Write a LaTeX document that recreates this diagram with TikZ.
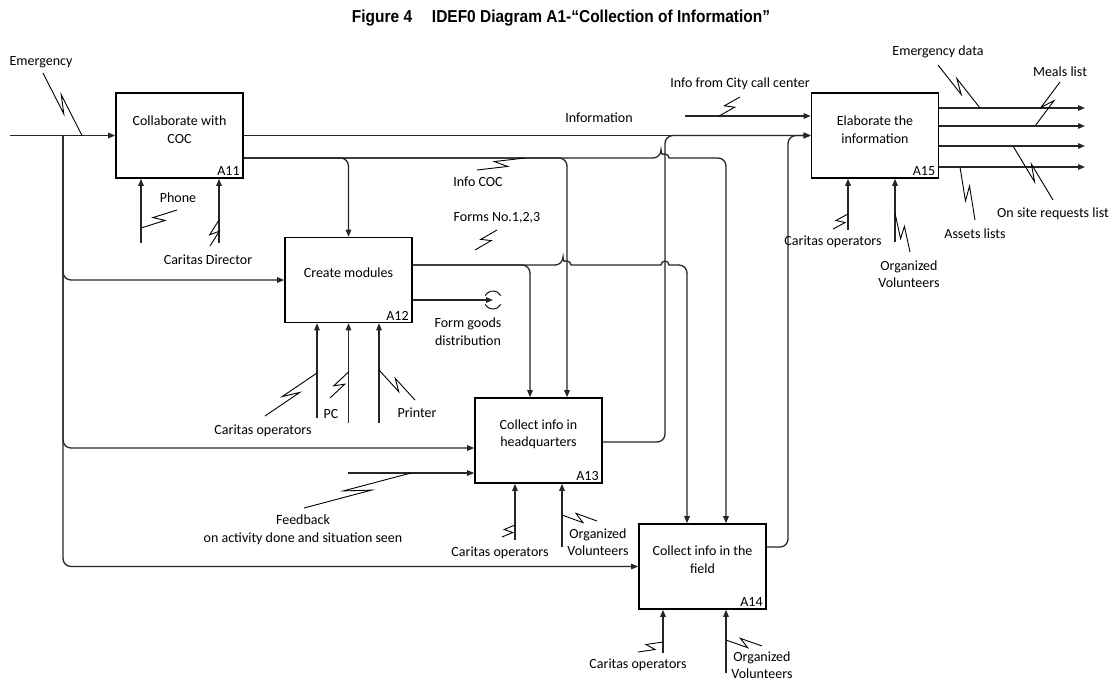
\documentclass[tikz,border=0pt]{standalone}
\usepackage{fontspec}
\setmainfont{Carlito}
\newfontfamily\titlefont{Liberation Sans}
\usetikzlibrary{arrows.meta,calc}

\begin{document}
\begin{tikzpicture}[x=1pt,y=-1pt,
  fnbox/.style={draw,line width=1.6pt,minimum width=127pt,minimum height=85pt,inner sep=0pt},
  fntext/.style={align=center,inner sep=0pt,font=\fontsize{14}{17.5}\selectfont},
  lbl/.style={align=center,inner sep=0pt,font=\fontsize{14}{17.5}\selectfont},
  idx/.style={inner sep=0pt,anchor=south east,font=\fontsize{14}{16}\selectfont},
  flow/.style={line width=1.3pt,draw=black!85,rounded corners=8pt},
  arr/.style={flow,-{Triangle[length=7pt,width=5.5pt]}},
  leader/.style={line width=0.9pt,
    to path={-- ($(\tikztostart)!0.62!(\tikztotarget)!4pt!-90:(\tikztotarget)$)
             -- ($(\tikztostart)!0.38!(\tikztotarget)!4pt!90:(\tikztotarget)$)
             -- (\tikztotarget)}},
]
\useasboundingbox (0,0) rectangle (1120,683);
\fill[white] (0,0) rectangle (1120,683);

% title
\node[inner sep=0pt] (title) at (561,18)
  {\resizebox{418pt}{12.5pt}{\titlefont\bfseries Figure 4\quad\ IDEF0 Diagram A1-“Collection of Information”}};

% activity boxes
\node[fnbox] (a11) at (179.5,135.5) {};
\node[fnbox] (a12) at (348.5,280) {};
\node[fnbox] (a13) at (538.5,440.5) {};
\node[fnbox] (a14) at (702.5,566.5) {};
\node[fnbox] (a15) at (875,135.5) {};

\node[fntext] (a11t) at ($(a11.center)+(0,-6)$) {Collaborate with\\COC};
\node[fntext] (a12t) at ($(a12.center)+(0,-7)$) {Create modules};
\node[fntext] (a13t) at ($(a13.center)+(0,-6)$) {Collect info in\\headquarters};
\node[fntext] (a14t) at ($(a14.center)+(0,-7)$) {Collect info in the\\field};
\node[fntext] (a15t) at ($(a15.center)+(0,-6)$) {Elaborate the\\information};

\node[idx] (a11n) at ($(a11.south east)+(-4,-3)$) {A11};
\node[idx] (a12n) at ($(a12.south east)+(-4,-3)$) {A12};
\node[idx] (a13n) at ($(a13.south east)+(-4,-3)$) {A13};
\node[idx] (a14n) at ($(a14.south east)+(-4,-3)$) {A14};
\node[idx] (a15n) at ($(a15.south east)+(-4,-3)$) {A15};

% route points
\coordinate (emin)  at (10,135.5);
\coordinate (split) at (63,135.5);
\coordinate (a13in1) at ($(a13.west)+(0,7.5)$);
\coordinate (a13in2) at ($(a13.west)+(0,32.5)$);
\coordinate (fbstart) at (348,473);
\coordinate (a11o2) at ($(a11.east)+(0,22.5)$);
\coordinate (a12o1) at ($(a12.east)+(0,-15)$);
\coordinate (a12o2) at ($(a12.east)+(0,20)$);
\coordinate (fgtip) at (493,300);
\coordinate (a13c1) at ($(a13.north)+(-8.5,0)$);
\coordinate (a13c2) at ($(a13.north)+(28.5,0)$);
\coordinate (a14c1) at ($(a14.north)+(-15.5,0)$);
\coordinate (a14c2) at ($(a14.north)+(23.5,0)$);
\coordinate (a13o) at ($(a13.east)+(0,1.5)$);
\coordinate (a14o) at ($(a14.east)+(0,-19.5)$);
\coordinate (r13) at (665,135.5);
\coordinate (r14) at (788,135.5);
\coordinate (a15i1) at ($(a15.west)+(0,-19.5)$);
\coordinate (citys) at (685,116);

% inputs
\draw[arr] (emin) -- (a11.west);
\draw[arr] (split) -- (split |- a12.west) -- (a12.west);
\draw[arr] (split) -- (split |- a13in1) -- (a13in1);
\draw[arr] (split) -- (split |- a14.west) -- (a14.west);
\draw[arr] (fbstart) -- (a13in2);
\draw[arr] (citys) -- (a15i1);

% outputs of A11
\draw[arr] (a11.east) -- (a15.west);
\draw[arr] (a11o2) -- (a11o2 -| a12.north) -- (a12.north);
\draw[arr] (a11o2) -- (a11o2 -| a13c2) -- (a13c2);
\draw[arr] (a11o2) -- ($(a11o2 -| r13)+(-4,0)$)
  [sharp corners] arc[start angle=180,end angle=0,radius=4pt]
  [rounded corners=8pt] -- (a11o2 -| a14c2) -- (a14c2);

% outputs of A12
\draw[arr] (a12o1) -- (a12o1 -| a13c1) -- (a13c1);
\draw[arr] (a12o1) -- ($(a12o1 -| a13c2)+(-4,0)$)
  [sharp corners] arc[start angle=180,end angle=0,radius=4pt]
  -- ($(a12o1 -| r13)+(-4,0)$) arc[start angle=180,end angle=0,radius=4pt]
  [rounded corners=8pt] -- (a12o1 -| a14c1) -- (a14c1);
\draw[arr] (a12o2) -- (fgtip);
\draw[line width=0.9pt] (fgtip) ++(150:9pt) arc[start angle=150,end angle=30,radius=9pt];
\draw[line width=0.9pt] (fgtip) ++(210:9pt) arc[start angle=210,end angle=330,radius=9pt];

% outputs of A13 and A14 feeding A15
\draw[arr] (a13o) -- (a13o -| r13) -- (r13) -- (a15.west);
\draw[arr] (a14o) -- (a14o -| r14) -- (r14) -- (a15.west);

% outputs of A15
\coordinate (o1s) at ($(a15.east)+(0,-27.5)$); \coordinate (o1e) at (1085,108);
\coordinate (o2s) at ($(a15.east)+(0,-9.5)$);  \coordinate (o2e) at (1085,126);
\coordinate (o3s) at ($(a15.east)+(0,10.5)$);  \coordinate (o3e) at (1085,146);
\coordinate (o4s) at ($(a15.east)+(0,31.5)$);  \coordinate (o4e) at (1085,167);
\draw[arr] (o1s) -- (o1e);
\draw[arr] (o2s) -- (o2e);
\draw[arr] (o3s) -- (o3e);
\draw[arr] (o4s) -- (o4e);

% mechanisms
\coordinate (m11a) at (141,243);
\coordinate (m11b) at (219,243);
\coordinate (m12a) at (317,418);
\coordinate (m12b) at (348.5,423);
\coordinate (m12c) at (379,423);
\coordinate (m13a) at (515,540);
\coordinate (m13b) at (562,547);
\coordinate (m14a) at (663,653);
\coordinate (m14b) at (726,673);
\coordinate (m15a) at (848,230);
\coordinate (m15b) at (895,242);
\foreach \m/\b in {m11a/a11,m11b/a11,m12a/a12,m12b/a12,m12c/a12,m13a/a13,m13b/a13,m14a/a14,m14b/a14,m15a/a15,m15b/a15}
  \draw[arr] (\m) -- (\m |- \b.south);

% labels
\node[lbl] (lemg)  at (41,62)   {Emergency};
\node[lbl] (lphn)  at (178,198) {Phone};
\node[lbl] (ldir)  at (208,260) {Caritas Director};
\node[lbl] (lcoc)  at (478,182) {Info COC};
\node[lbl] (lform) at (497,218) {Forms No.1,2,3};
\node[lbl] (linf)  at (599,118) {Information};
\node[lbl] (lcity) at (740,84)  {Info from City call center};
\node[lbl] (ledat) at (938,52)  {Emergency data};
\node[lbl] (lmeal) at (1060,72) {Meals list};
\node[lbl] (lreq)  at (1053,214) {On site requests list};
\node[lbl] (lass)  at (975,234) {Assets lists};
\node[lbl] (lop15) at (833,242) {Caritas operators};
\node[lbl] (lvo15) at (909,274) {Organized\\Volunteers};
\node[lbl] (lop12) at (263,431) {Caritas operators};
\node[lbl] (lpc)   at (331,414) {PC};
\node[lbl] (lprn)  at (417,413) {Printer};
\node[lbl] (lfg)   at (468,331.5) {Form goods\\distribution};
\node[lbl] (lfb)   at (303,530) {Feedback\\on activity done and situation seen};
\node[lbl] (lop13) at (500,553) {Caritas operators};
\node[lbl] (lvo13) at (598,542) {Organized\\Volunteers};
\node[lbl] (lop14) at (638,665) {Caritas operators};
\node[lbl] (lvo14) at (762,665) {Organized\\Volunteers};

% label leaders
\coordinate (s1a) at (43,73);    \coordinate (s1b) at (82,135.5);
\coordinate (s2a) at (177,210);  \coordinate (s2b) at (141,228);
\coordinate (s3a) at (210,246);  \coordinate (s3b) at (219,220);
\coordinate (s4a) at (477,170);  \coordinate (s4b) at (525,158);
\coordinate (s5a) at (475,250);  \coordinate (s5b) at (497,230);
\coordinate (s6a) at (740,97);   \coordinate (s6b) at (719,116);
\coordinate (s7a) at (938,65);   \coordinate (s7b) at (980,108);
\coordinate (s8a) at (1060,82);  \coordinate (s8b) at (1035,126);
\coordinate (s9a) at (1053,200); \coordinate (s9b) at (1013,146);
\coordinate (s10a) at (975,220); \coordinate (s10b) at (960,167);
\coordinate (s11a) at (833,229); \coordinate (s11b) at (848,214);
\coordinate (s12a) at (910,252); \coordinate (s12b) at (895,213);
\coordinate (s13a) at (265,416); \coordinate (s13b) at (317,373);
\coordinate (s14a) at (330,398); \coordinate (s14b) at (348.5,372);
\coordinate (s15a) at (415,400); \coordinate (s15b) at (379,370);
\coordinate (s16a) at (304,508); \coordinate (s16b) at (411,473);
\coordinate (s17a) at (502,537); \coordinate (s17b) at (515,525);
\coordinate (s18a) at (597,521); \coordinate (s18b) at (562,515);
\coordinate (s19a) at (638,652); \coordinate (s19b) at (663,642);
\coordinate (s20a) at (762,646); \coordinate (s20b) at (726,640);
\foreach \i in {1,...,20}
  \draw[leader] (s\i a) to (s\i b);
\end{tikzpicture}
\end{document}
